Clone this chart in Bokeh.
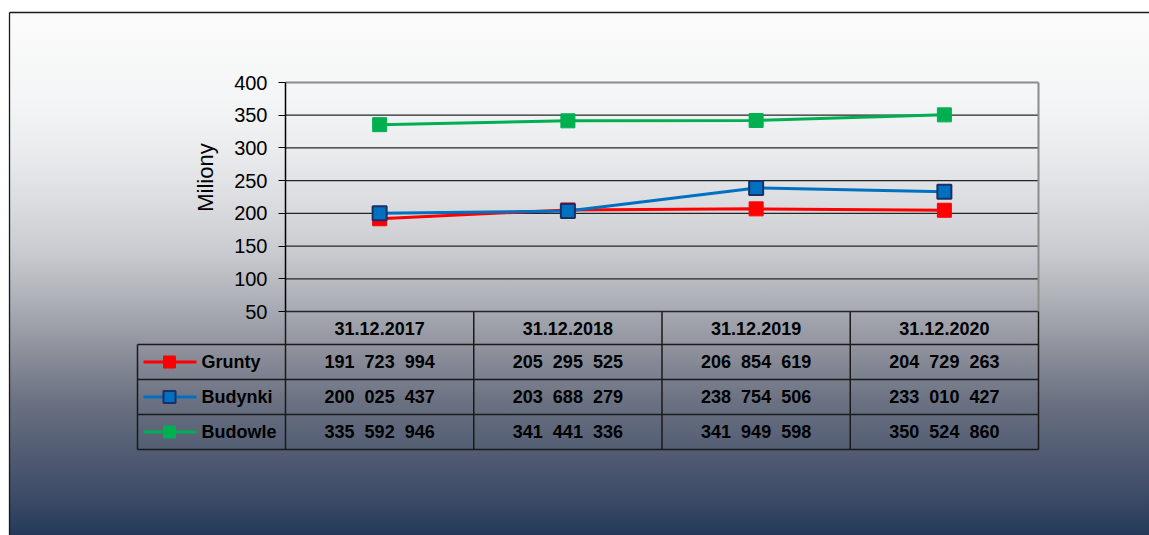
import math
from bokeh.plotting import figure
from bokeh.models import Range1d, LinearAxis, FixedTicker
from bokeh.core.properties import value
from bokeh.embed import file_html
from bokeh.resources import INLINE

# ---------------- data ----------------
dates = ["31.12.2017", "31.12.2018", "31.12.2019", "31.12.2020"]
series_names = ["Grunty", "Budynki", "Budowle"]
grunty = [191723994, 205295525, 206854619, 204729263]
budynki = [200025437, 203688279, 238754506, 233010427]
budowle = [335592946, 341441336, 341949598, 350524860]
y_ticks = [50, 100, 150, 200, 250, 300, 350, 400]
y_label = "Miliony"

# ---------------- layout (picture pixels) ----------------
W, H = 1149, 535
OX, OY = 0, 0
PL, PR = 285, 1038      # plot area left / right
PT, PB = 82, 311        # pixel y of top tick / bottom tick
n = len(dates)
ymin, ymax = y_ticks[0], y_ticks[-1]
sx = (PR - PL) / n
sy = (PB - PT) / (ymax - ymin)

x_range = Range1d(-(PL - OX) / sx, n + (OX + W - PR) / sx)
y_range = Range1d(ymin - (OY + H - PB) / sy, ymax + (PT - OY) / sy)

grad = ("linear-gradient(to right, #ffffff 0px, #ffffff 9px, transparent 9px), "
        "linear-gradient(to bottom, #ffffff 0px, #ffffff 12px, #fcfcfc 12px, #f4f5f6 100px, "
        "#ebecee 150px, #dcdde0 200px, #cbccd1 250px, #aeb0b8 300px, #8e919c 350px, "
        "#6c7282 400px, #535d73 450px, #3b4a66 500px, #24395a 535px)")

p = figure(width=W, height=H, x_range=x_range, y_range=y_range,
           min_border=0, toolbar_location=None, output_backend="svg",
           x_axis_location=None, y_axis_location=None,
           styles={"background": grad})
p.background_fill_alpha = 0
p.border_fill_alpha = 0
p.outline_line_color = None
p.grid.visible = False
p.extra_x_ranges = {"px": Range1d(OX, OX + W)}
p.extra_y_ranges = {"py": Range1d(OY + H, OY)}

# outer frame (top and left edges visible)
p.segment(x0=[9, 9], y0=[12, 12], x1=[OX + W, 9], y1=[12, OY + H],
          x_range_name="px", y_range_name="py", line_color="#1a1a1a", line_width=1.3)

# gridlines
grid_vals = y_ticks[:-1]
p.segment(x0=[0] * len(grid_vals), x1=[n] * len(grid_vals), y0=grid_vals, y1=grid_vals,
          line_color="#262626", line_width=1.3)
# plot area top / right border
p.segment(x0=[0, n], x1=[n, n], y0=[ymax, ymin], y1=[ymax, ymax],
          line_color="#8c8c8c", line_width=2)

# y axis
yaxis = LinearAxis(fixed_location=0, bounds=(ymin, ymax), ticker=FixedTicker(ticks=y_ticks))
yaxis.axis_line_color = "#000000"
yaxis.axis_line_width = 1.5
yaxis.major_tick_out = 7
yaxis.major_tick_in = 0
yaxis.major_tick_line_color = "#000000"
yaxis.minor_tick_out = 0
yaxis.minor_tick_in = 0
yaxis.major_label_text_font = "Liberation Sans"
yaxis.major_label_text_font_size = "20px"
yaxis.major_label_text_color = "#000000"
yaxis.major_label_standoff = 11
p.add_layout(yaxis, "left")

p.text(x=[205], y=[177], text=[y_label], angle=math.pi / 2,
       x_range_name="px", y_range_name="py",
       text_font=value("Liberation Sans"), text_font_size="22px",
       text_align="center", text_baseline="middle", text_color="#000000")

# ---------------- series ----------------
xs = [i + 0.5 for i in range(n)]
colors = {"Grunty": "#ff0000", "Budynki": "#0070c0", "Budowle": "#00b050"}
borders = {"Grunty": "#ff0000", "Budynki": "#1c2e66", "Budowle": "#00b050"}
data = {"Grunty": grunty, "Budynki": budynki, "Budowle": budowle}

for name in ["Budowle", "Grunty", "Budynki"]:
    ys = [v / 1e6 for v in data[name]]
    p.line(xs, ys, line_color=colors[name], line_width=3)
for name in ["Budowle", "Grunty", "Budynki"]:
    ys = [v / 1e6 for v in data[name]]
    p.scatter(xs, ys, marker="square", size=14, fill_color=colors[name],
              line_color=borders[name], line_width=2 if name == "Budynki" else 1)

# ---------------- data table ----------------
row_edges = [311, 344, 379, 414, 449]
TL = 137
FONT_B = "Liberation Sans"
line_c = "#1a1a1a"

# horizontal table lines (below header top)
p.segment(x0=[TL] * 4, x1=[PR] * 4, y0=row_edges[1:], y1=row_edges[1:],
          x_range_name="px", y_range_name="py", line_color=line_c, line_width=1.5)
# vertical lines: category boundaries
bounds_x = list(range(n + 1))
p.segment(x0=bounds_x, x1=bounds_x, y0=[row_edges[0]] * (n + 1), y1=[row_edges[-1]] * (n + 1),
          y_range_name="py", line_color=line_c, line_width=1.5)
# legend column left edge
p.segment(x0=[TL], x1=[TL], y0=[row_edges[1]], y1=[row_edges[-1]],
          x_range_name="px", y_range_name="py", line_color=line_c, line_width=1.5)

# header
hy = (row_edges[0] + row_edges[1]) / 2
p.text(x=xs, y=[hy] * n, text=dates, y_range_name="py",
       text_font=value(FONT_B), text_font_style="bold", text_font_size="18px",
       text_align="center", text_baseline="middle", text_color="#000000")


def fmt(v):
    return f"{v:,}".replace(",", "\u00a0\u00a0")


for r, name in enumerate(series_names):
    cy = (row_edges[r + 1] + row_edges[r + 2]) / 2
    p.text(x=xs, y=[cy] * n, text=[fmt(v) for v in data[name]], y_range_name="py",
           text_font=value(FONT_B), text_font_style="bold", text_font_size="18px",
           text_align="center", text_baseline="middle", text_color="#000000")
    # legend key
    p.line([143, 196], [cy, cy], x_range_name="px", y_range_name="py",
           line_color=colors[name], line_width=3)
    p.scatter([169], [cy], x_range_name="px", y_range_name="py", marker="square", size=12,
              fill_color=colors[name], line_color=borders[name],
              line_width=2 if name == "Budynki" else 1)
    p.text(x=[201], y=[cy], text=[name], x_range_name="px", y_range_name="py",
           text_font=value(FONT_B), text_font_style="bold", text_font_size="18px",
           text_align="left", text_baseline="middle", text_color="#000000")

open("out.html", "w").write(file_html(p, INLINE))
